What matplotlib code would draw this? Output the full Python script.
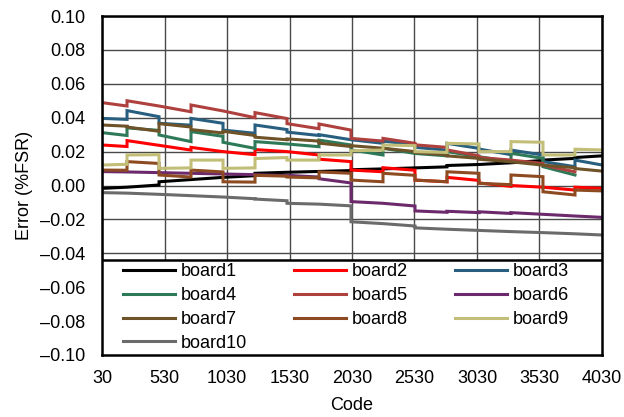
import matplotlib
matplotlib.use("Agg")
import matplotlib.pyplot as plt
from matplotlib.patches import Rectangle
from matplotlib.ticker import FuncFormatter

plt.rcParams['font.family'] = ['Liberation Sans', 'DejaVu Sans']

# segment edges (codes); each board has a (start, end) error pair per segment
seg_edges = [30, 230, 486, 742, 998, 1254, 1510, 1766, 2022,
             2278, 2534, 2790, 3046, 3302, 3558, 3814, 4030]

board1 = [(-0.0017, -0.0010), (-0.0010, 0.0003), (0.0022, 0.0035), (0.0035, 0.0048),
          (0.0048, 0.0058), (0.0072, 0.0078), (0.0078, 0.0083), (0.0083, 0.0088),
          (0.0093, 0.0098), (0.0098, 0.0104), (0.0104, 0.0110), (0.0118, 0.0124),
          (0.0124, 0.0134), (0.0134, 0.0148), (0.0150, 0.0160), (0.0165, 0.0175)]
board2 = [(0.0239, 0.0230), (0.0265, 0.0237), (0.0237, 0.0209), (0.0225, 0.0200),
          (0.0200, 0.0182), (0.0212, 0.0200), (0.0200, 0.0180), (0.0155, 0.0141),
          (0.0091, 0.0081), (0.0105, 0.0090), (0.0032, 0.0022), (0.0048, 0.0030),
          (0.0015, -0.0005), (0.0000, -0.0010), (-0.0010, -0.0027), (-0.0010, -0.0017)]
board3 = [(0.0396, 0.0390), (0.0442, 0.0406), (0.0367, 0.0356), (0.0396, 0.0367),
          (0.0327, 0.0308), (0.0357, 0.0330), (0.0315, 0.0295), (0.0300, 0.0270),
          (0.0270, 0.0249), (0.0262, 0.0240), (0.0225, 0.0209), (0.0249, 0.0219),
          (0.0215, 0.0182), (0.0209, 0.0180), (0.0141, 0.0111), (0.0150, 0.0121)]
board4 = [(0.0312, 0.0295), (0.0340, 0.0325), (0.0298, 0.0259), (0.0318, 0.0290),
          (0.0255, 0.0219), (0.0259, 0.0245), (0.0245, 0.0229), (0.0268, 0.0239),
          (0.0210, 0.0180), (0.0220, 0.0189), (0.0189, 0.0175), (0.0200, 0.0170),
          (0.0170, 0.0141), (0.0190, 0.0160), (0.0111, 0.0062)]
board5 = [(0.0489, 0.0469), (0.0500, 0.0469), (0.0469, 0.0435), (0.0475, 0.0440),
          (0.0440, 0.0400), (0.0430, 0.0395), (0.0365, 0.0335), (0.0363, 0.0327),
          (0.0278, 0.0262), (0.0278, 0.0249), (0.0240, 0.0225), (0.0210, 0.0175),
          (0.0165, 0.0150), (0.0150, 0.0130), (0.0120, 0.0081)]
board6 = [(0.0082, 0.0080), (0.0080, 0.0076), (0.0076, 0.0072), (0.0072, 0.0068),
          (0.0068, 0.0064), (0.0064, 0.0058), (0.0060, 0.0050), (0.0040, 0.0015),
          (-0.0095, -0.0105), (-0.0105, -0.0121), (-0.0150, -0.0158), (-0.0152, -0.0160),
          (-0.0155, -0.0165), (-0.0160, -0.0170), (-0.0170, -0.0180), (-0.0180, -0.0188)]
board7 = [(0.0357, 0.0350), (0.0345, 0.0320), (0.0365, 0.0345), (0.0330, 0.0310),
          (0.0320, 0.0295), (0.0285, 0.0270), (0.0275, 0.0262), (0.0250, 0.0230),
          (0.0235, 0.0220), (0.0220, 0.0200), (0.0195, 0.0180), (0.0175, 0.0160),
          (0.0155, 0.0140), (0.0140, 0.0120), (0.0120, 0.0105), (0.0100, 0.0085)]
board8 = [(0.0091, 0.0090), (0.0141, 0.0130), (0.0062, 0.0050), (0.0091, 0.0080),
          (0.0022, 0.0020), (0.0060, 0.0055), (0.0050, 0.0045), (0.0080, 0.0072),
          (0.0032, 0.0022), (0.0072, 0.0060), (0.0032, 0.0022), (0.0081, 0.0072),
          (0.0013, 0.0005), (0.0062, 0.0052), (-0.0037, -0.0056), (-0.0027, -0.0032)]
board9 = [(0.0121, 0.0125), (0.0180, 0.0182), (0.0101, 0.0104), (0.0150, 0.0150),
          (0.0101, 0.0104), (0.0159, 0.0165), (0.0150, 0.0150), (0.0180, 0.0180),
          (0.0205, 0.0209), (0.0239, 0.0235), (0.0200, 0.0195), (0.0249, 0.0245),
          (0.0200, 0.0200), (0.0259, 0.0255), (0.0180, 0.0180), (0.0214, 0.0210)]
board10 = [(-0.0042, -0.0045), (-0.0045, -0.0052), (-0.0052, -0.0060), (-0.0060, -0.0068),
           (-0.0068, -0.0078), (-0.0080, -0.0090), (-0.0105, -0.0110), (-0.0110, -0.0120),
           (-0.0214, -0.0225), (-0.0225, -0.0239), (-0.0250, -0.0258), (-0.0258, -0.0265),
           (-0.0265, -0.0272), (-0.0272, -0.0278), (-0.0278, -0.0285), (-0.0285, -0.0292)]

names = ['board1', 'board2', 'board3', 'board4', 'board5',
         'board6', 'board7', 'board8', 'board9', 'board10']
series = [board1, board2, board3, board4, board5,
          board6, board7, board8, board9, board10]
colors = ['#000000', '#FF0000', '#285F80', '#2E7A58', '#AE403E',
          '#6C2A6C', '#6E5228', '#8E4B22', '#C2BE78', '#6B6B6B']

fig = plt.figure(figsize=(6.24, 4.17), dpi=100)
ax = fig.add_axes([0.1635, 0.1487, 0.8012, 0.8129])

lines = []
for name, segs, c in zip(names, series, colors):
    xs, ys = [], []
    for i, (a, b) in enumerate(segs):
        xs += [seg_edges[i], seg_edges[i + 1]]
        ys += [a, b]
    ln, = ax.plot(xs, ys, color=c, lw=2.2, label=name, solid_joinstyle='miter')
    lines.append(ln)

ax.set_xlim(30, 4030)
ax.set_ylim(-0.1, 0.1)
ax.set_xticks(range(30, 4031, 500))
ax.set_yticks([i * 0.02 for i in range(-5, 6)])
ax.yaxis.set_major_formatter(FuncFormatter(
    lambda v, p: f'{round(v, 2):.2f}'.replace('-', '\u2013')))
ax.tick_params(length=0, labelsize=13)
ax.tick_params(axis='y', pad=12)
ax.tick_params(axis='x', pad=11)
ax.grid(True, color='#4a4a4a', lw=1.0)
ax.set_axisbelow(True)
for s in ax.spines.values():
    s.set_linewidth(1.8)
    s.set_color('black')

ax.set_xlabel('Code', fontsize=13, labelpad=7)
ax.set_ylabel('Error (%FSR)', fontsize=13, labelpad=5)

# legend box spanning the lower part of the plot, filled row by row
leg_h = 95 / 339
ax.add_patch(Rectangle((0, 0), 1, leg_h, transform=ax.transAxes,
                       facecolor='white', edgecolor='black', lw=1.8, zorder=4))
order = [0, 3, 6, 9, 1, 4, 7, 2, 5, 8]
leg = ax.legend([lines[i] for i in order], [names[i] for i in order],
                loc='center', bbox_to_anchor=(0.041, 0.0, 0.893, leg_h),
                mode='expand', ncol=3, frameon=False, fontsize=13,
                borderpad=0, borderaxespad=0, handlelength=2.9,
                handletextpad=0.3, labelspacing=0.37)
leg.set_zorder(5)

fig.savefig('out.png', dpi=100)
